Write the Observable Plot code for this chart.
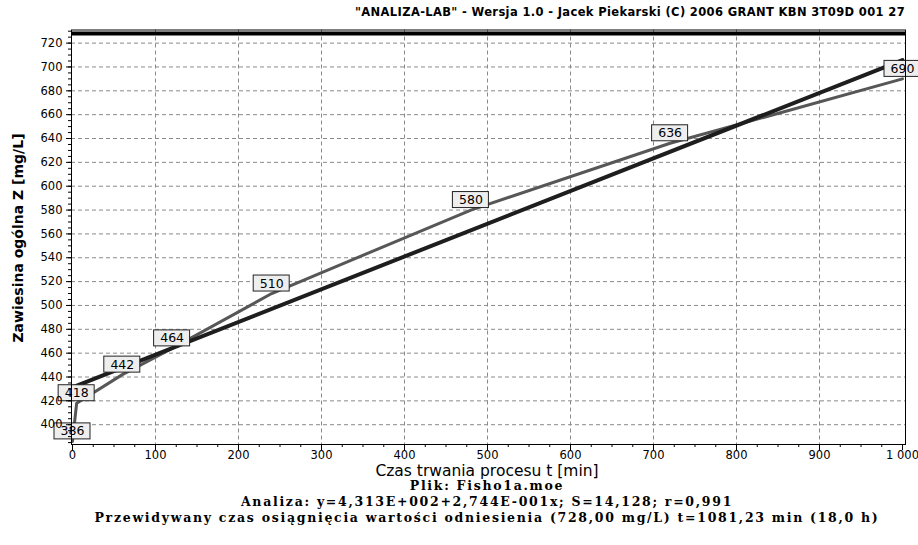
<!DOCTYPE html>
<html><head><meta charset="utf-8">
<script src="https://cdn.jsdelivr.net/npm/d3@7"></script>
<script src="https://cdn.jsdelivr.net/npm/@observablehq/plot@0.6"></script>
<style>
body{margin:0;background:#fff;}
#wrap{position:relative;width:918px;height:545px;overflow:hidden;font-family:"DejaVu Sans",sans-serif;color:#000;}
#chart{position:absolute;left:0;top:0;}
#title{position:absolute;right:13px;top:5px;font-weight:bold;font-size:11.5px;white-space:nowrap;}
#ylab{position:absolute;left:18px;top:238px;transform:translate(-50%,-50%) rotate(-90deg);white-space:nowrap;font-size:14px;font-weight:bold;}
#xlab{position:absolute;left:487px;top:470.5px;transform:translate(-50%,-50%);white-space:nowrap;font-size:15.5px;line-height:14px;}
#foot{position:absolute;left:0;width:974px;top:478px;text-align:center;font-family:"DejaVu Serif",serif;font-weight:bold;font-size:12.5px;line-height:16px;}
#foot div{white-space:nowrap;height:16px;}
#foot span, #title span{display:inline-block;}
</style>
</head><body>
<div id="wrap">
  <div id="chart"></div>
  <div id="title"></div>
  <div id="ylab"></div>
  <div id="xlab"></div>
  <div id="foot"></div>
</div>
<script>
// ---- data ----
const times = [0, 5, 60, 120, 240, 480, 720, 1000];
const values = [386, 418, 442, 464, 510, 580, 636, 690];
const regTimes = [0, 1000];
const regValues = [431.3, 705.7];
const refValue = [728];
const xTicks = [0, 100, 200, 300, 400, 500, 600, 700, 800, 900, 1000];
const xTickLabels = ["0", "100", "200", "300", "400", "500", "600", "700", "800", "900", "1 000"];
const yTicks = [400, 420, 440, 460, 480, 500, 520, 540, 560, 580, 600, 620, 640, 660, 680, 700, 720];
const titleText = '"ANALIZA-LAB" - Wersja 1.0 - Jacek Piekarski (C) 2006 GRANT KBN 3T09D 001 27';
const yLabel = "Zawiesina ogólna Z [mg/L]";
const xLabel = "Czas trwania procesu t [min]";
const footLines = [
  "Plik: Fisho1a.moe",
  "Analiza: y=4,313E+002+2,744E-001x; S=14,128; r=0,991",
  "Przewidywany czas osiągnięcia wartości odniesienia (728,00 mg/L) t=1081,23 min (18,0 h)"
];

const data = times.map((t, i) => ({t, z: values[i]}));
const reg = regTimes.map((t, i) => ({t, z: regValues[i]}));
const xMinor = d3.range(0, 1001, 25);
const yMinor = d3.range(385, 731, 5);

const chart = Plot.plot({
  width: 918,
  height: 545,
  marginLeft: 71,
  marginRight: 13,
  marginTop: 29.5,
  marginBottom: 101,
  x: {domain: [-1.2, 1003.6]},
  y: {domain: [383.4, 731]},
  style: {fontFamily: "DejaVu Sans, sans-serif", fontSize: "11.5px", background: "white", color: "#000"},
  marks: [
    Plot.ruleX(xTicks.slice(1, -1), {stroke: "#8a8a8a", strokeDasharray: "4,3"}),
    Plot.ruleY(yTicks, {stroke: "#8a8a8a", strokeDasharray: "4,3"}),
    Plot.ruleY(refValue, {stroke: "#000", strokeWidth: 4}),
    Plot.line(data, {x: "t", y: "z", stroke: "#575757", strokeWidth: 3}),
    Plot.line(reg, {x: "t", y: "z", stroke: "#1e1e1e", strokeWidth: 4}),
    Plot.rect(data, {x1: "t", x2: "t", y1: "z", y2: "z", insetLeft: -18, insetRight: -18, insetTop: -18, insetBottom: 2, fill: "#eeeeee", stroke: "#222"}),
    Plot.text(data, {x: "t", y: "z", text: d => String(d.z), dy: -10, fontSize: 12.5, fill: "#000"}),
    Plot.axisX(xMinor, {tickSize: 3, text: null, label: null}),
    Plot.axisX(xTicks, {tickSize: 6, tickPadding: 0, label: null, tickFormat: d => xTickLabels[xTicks.indexOf(d)]}),
    Plot.axisY(yMinor, {tickSize: 3, text: null, label: null}),
    Plot.axisY(yTicks, {tickSize: 5, tickPadding: 4, label: null}),
    Plot.frame({stroke: "#000"})
  ]
});
document.getElementById("chart").appendChild(chart);

function fitSpan(parent, text) {
  const s = document.createElement("span");
  s.textContent = text;
  parent.appendChild(s);
  const w = s.getBoundingClientRect().width;
  return {s, w, n: text.length};
}
// title fitted to the reference width
const tEl = document.getElementById("title");
const tf = fitSpan(tEl, titleText);
tf.s.style.letterSpacing = ((550 - tf.w) / tf.n) + "px";

document.getElementById("ylab").textContent = yLabel;
document.getElementById("xlab").textContent = xLabel;
const foot = document.getElementById("foot");
const spans = footLines.map(s => { const d = document.createElement("div"); foot.appendChild(d); return fitSpan(d, s); });
const ls = (785 - spans[2].w) / spans[2].n;
spans.forEach(o => o.s.style.letterSpacing = ls + "px");
</script>
</body></html>
